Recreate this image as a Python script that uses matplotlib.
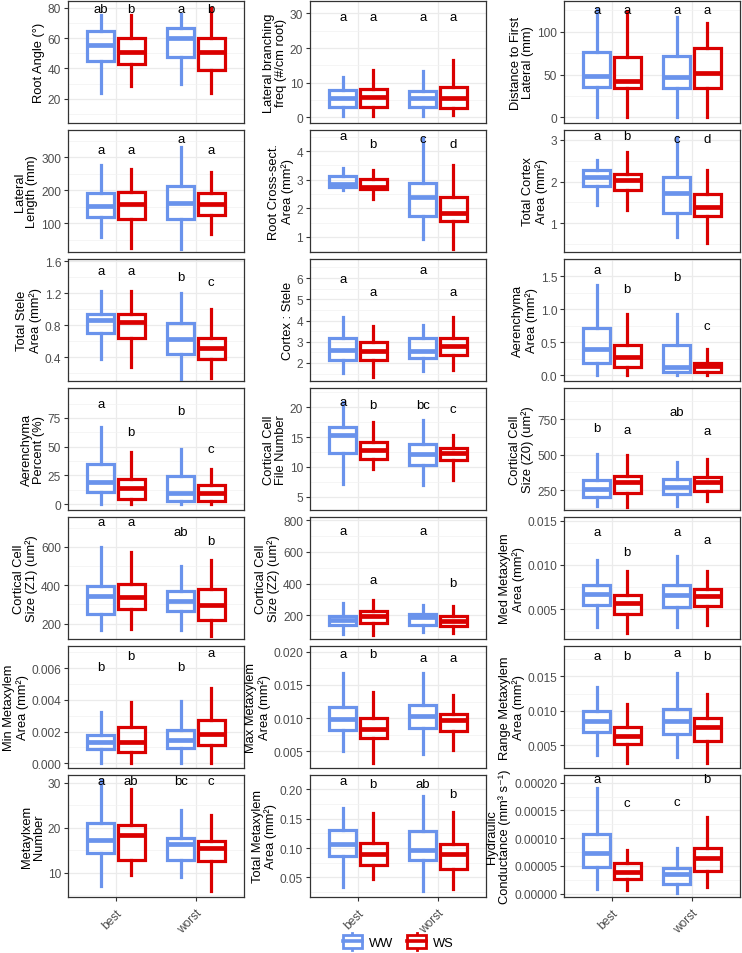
import matplotlib
matplotlib.use('Agg')
import matplotlib.pyplot as plt
from matplotlib.patches import Rectangle, Patch
from matplotlib.lines import Line2D
from matplotlib.legend_handler import HandlerBase
from matplotlib.ticker import FixedLocator, AutoMinorLocator, FixedFormatter

plt.rcParams['font.family'] = ['Liberation Sans', 'DejaVu Sans']

categories = ['best', 'worst']
treatments = ['WW', 'WS']
colors = {'WW': '#6A93EC', 'WS': '#DA0000'}

# box stats: [whislo, q1, median, q3, whishi] for best-WW, best-WS, worst-WW, worst-WS
root_angle_stats = [[24, 44.6, 55.5, 64.6, 75], [28.5, 42.8, 50.7, 60, 75], [29.6, 47.4, 60.2, 66.5, 76], [24, 39, 50.7, 60.2, 80]]
root_angle_letters = ['ab', 'b', 'a', 'b']
root_angle_letter_y = [79, 79, 79, 79]
root_angle_ticks = [20, 40, 60, 80]

lat_branch_stats = [[0.3, 2.9, 5.5, 8.0, 11.7], [0.3, 3.0, 5.9, 8.2, 13.8], [0.5, 3.0, 5.6, 7.6, 13.3], [0.7, 2.7, 5.5, 8.8, 16.5]]
lat_branch_letters = ['a', 'a', 'a', 'a']
lat_branch_letter_y = [29, 29, 29, 29]
lat_branch_ticks = [0, 10, 20, 30]

dist_first_stats = [[0.8, 35, 48.6, 76, 127], [0.8, 34.4, 42, 70.7, 124], [0.8, 34, 47, 72, 117], [0.8, 34, 52, 81, 110]]
dist_first_letters = ['a', 'a', 'a', 'a']
dist_first_letter_y = [125, 125, 125, 125]
dist_first_ticks = [0, 50, 100]

lat_length_stats = [[58, 119, 152, 191, 278], [25, 111, 158, 195, 264], [22, 113, 162, 213, 332], [68, 124, 158, 191, 254]]
lat_length_letters = ['a', 'a', 'a', 'a']
lat_length_letter_y = [323, 323, 356, 323]
lat_length_ticks = [100, 200, 300]

cross_area_stats = [[2.65, 2.76, 2.86, 3.12, 3.41], [2.32, 2.67, 2.76, 3.04, 3.35], [0.94, 1.73, 2.4, 2.9, 4.47], [0.59, 1.55, 1.85, 2.39, 3.5]]
cross_area_letters = ['a', 'b', 'c', 'd']
cross_area_letter_y = [4.53, 4.24, 4.41, 4.24]
cross_area_ticks = [1, 2, 3, 4]

cortex_area_stats = [[1.43, 1.9, 2.11, 2.28, 2.51], [1.32, 1.81, 2.05, 2.19, 2.71], [0.66, 1.24, 1.73, 2.1, 3.06], [0.52, 1.18, 1.39, 1.71, 2.27]]
cortex_area_letters = ['a', 'b', 'c', 'd']
cortex_area_letter_y = [3.1, 3.1, 3.02, 3.02]
cortex_area_ticks = [1, 2, 3]

stele_area_stats = [[0.37, 0.70, 0.87, 0.935, 1.227], [0.27, 0.64, 0.84, 0.935, 1.23], [0.13, 0.44, 0.63, 0.83, 1.2], [0.14, 0.38, 0.51, 0.64, 1.0]]
stele_area_letters = ['a', 'a', 'b', 'c']
stele_area_letter_y = [1.48, 1.48, 1.41, 1.34]
stele_area_ticks = [0.4, 0.8, 1.2, 1.6]

cortex_stele_stats = [[1.52, 2.15, 2.63, 3.16, 4.15], [1.36, 2.16, 2.55, 2.97, 3.72], [1.63, 2.23, 2.55, 3.19, 3.8], [1.68, 2.39, 2.79, 3.19, 4.15]]
cortex_stele_letters = ['a', 'a', 'a', 'a']
cortex_stele_letter_y = [5.97, 5.36, 6.4, 5.36]
cortex_stele_ticks = [2, 3, 4, 5, 6]

aer_area_stats = [[0.0, 0.19, 0.40, 0.71, 1.36], [0.0, 0.12, 0.27, 0.45, 0.93], [0.0, 0.05, 0.12, 0.45, 0.93], [0.0, 0.04, 0.13, 0.19, 0.40]]
aer_area_letters = ['a', 'b', 'b', 'c']
aer_area_letter_y = [1.59, 1.31, 1.49, 0.75]
aer_area_ticks = [0.0, 0.5, 1.0, 1.5]

aer_pct_stats = [[0, 10.6, 19.4, 35.3, 67], [0, 4.6, 14, 22, 45], [0, 3.2, 10, 24.3, 48], [0, 2.4, 9.5, 16.4, 30.6]]
aer_pct_letters = ['a', 'b', 'b', 'c']
aer_pct_letter_y = [87, 62.7, 80.8, 48.4]
aer_pct_ticks = [0, 25, 50, 75]

file_num_stats = [[7.2, 12.4, 15.3, 16.6, 20.9], [9.6, 11.4, 12.8, 14.1, 17.5], [7.0, 10.4, 12.1, 13.8, 17.9], [7.9, 11.1, 12.3, 13.2, 15.4]]
file_num_letters = ['a', 'b', 'bc', 'c']
file_num_letter_y = [20.9, 20.4, 20.4, 19.7]
file_num_ticks = [5, 10, 15, 20]

size_z0_stats = [[135, 204, 259, 324, 508], [130, 232, 305, 347, 499], [135, 222, 273, 328, 446], [176, 245, 308, 342, 469]]
size_z0_letters = ['b', 'a', 'ab', 'a']
size_z0_letter_y = [688, 676, 798, 669]
size_z0_ticks = [250, 500, 750]

size_z1_stats = [[169, 249, 344, 398, 600], [173, 276, 339, 404, 573], [169, 267, 317, 371, 501], [137, 218, 295, 380, 530]]
size_z1_letters = ['a', 'a', 'ab', 'b']
size_z1_letter_y = [728, 728, 677, 632]
size_z1_ticks = [200, 400, 600]

size_z2_stats = [[81, 140, 172, 194, 279], [77, 151, 194, 230, 294], [94, 140, 187, 209, 268], [87, 130, 166, 194, 257]]
size_z2_letters = ['a', 'a', 'a', 'b']
size_z2_letter_y = [732, 421, 732, 406]
size_z2_ticks = [200, 400, 600, 800]

med_mx_stats = [[0.00293, 0.00544, 0.00674, 0.00767, 0.01056], [0.0023, 0.00441, 0.00574, 0.00656, 0.00933], [0.00293, 0.00526, 0.00663, 0.00774, 0.01107], [0.00315, 0.00537, 0.00648, 0.00722, 0.00933]]
med_mx_letters = ['a', 'b', 'a', 'a']
med_mx_letter_y = [0.01378, 0.01144, 0.01378, 0.01278]
med_mx_ticks = [0.005, 0.010, 0.015]

min_mx_stats = [[0.0, 0.00092, 0.00135, 0.00178, 0.00325], [0.0, 0.0007, 0.00135, 0.00226, 0.00384], [0.0, 0.00096, 0.00146, 0.00211, 0.00395], [0.0, 0.00118, 0.00183, 0.00276, 0.00477]]
min_mx_letters = ['b', 'b', 'b', 'a']
min_mx_letter_y = [0.00606, 0.00676, 0.00606, 0.00693]
min_mx_ticks = [0.000, 0.002, 0.004, 0.006]

max_mx_stats = [[0.005, 0.00825, 0.00985, 0.01175, 0.01675], [0.0033, 0.00695, 0.00835, 0.0100, 0.0140], [0.00455, 0.00845, 0.01035, 0.0120, 0.01675], [0.00525, 0.0080, 0.00975, 0.01065, 0.0135]]
max_mx_letters = ['a', 'b', 'a', 'a']
max_mx_letter_y = [0.01965, 0.01965, 0.0190, 0.0190]
max_mx_ticks = [0.005, 0.010, 0.015, 0.020]

range_mx_stats = [[0.00365, 0.0069, 0.0085, 0.0100, 0.0134], [0.0024, 0.00515, 0.0063, 0.00765, 0.0110], [0.0033, 0.00665, 0.0085, 0.0102, 0.0155], [0.0024, 0.00565, 0.00765, 0.0090, 0.0125]]
range_mx_letters = ['a', 'b', 'a', 'b']
range_mx_letter_y = [0.0179, 0.0179, 0.0184, 0.0179]
range_mx_ticks = [0.005, 0.010, 0.015]

mx_number_stats = [[7.1, 14.3, 17.3, 21.0, 30.5], [9.5, 12.8, 18.3, 20.7, 28.7], [9.1, 12.8, 16.3, 17.7, 24.0], [5.9, 12.5, 15.4, 17.1, 22.9]]
mx_number_letters = ['a', 'ab', 'bc', 'c']
mx_number_letter_y = [30.4, 30.4, 30.4, 30.4]
mx_number_ticks = [10, 20, 30]

total_mx_stats = [[0.0339, 0.0872, 0.1066, 0.1313, 0.1685], [0.0471, 0.0711, 0.0895, 0.1084, 0.160], [0.0265, 0.0792, 0.097, 0.1296, 0.1885], [0.0299, 0.0643, 0.0906, 0.1066, 0.1616]]
total_mx_letters = ['a', 'b', 'ab', 'b']
total_mx_letter_y = [0.214, 0.21, 0.21, 0.192]
total_mx_ticks = [0.05, 0.10, 0.15, 0.20]

hydraulic_stats = [[0.0000079, 0.0000485, 0.0000727, 0.000108, 0.000191], [0.0000061, 0.0000261, 0.0000394, 0.0000545, 0.0000788], [0.000002, 0.0000182, 0.0000345, 0.0000467, 0.0000818], [0.0000121, 0.0000406, 0.0000636, 0.000083, 0.000139]]
hydraulic_letters = ['a', 'c', 'c', 'b']
hydraulic_letter_y = [0.000206, 0.000164, 0.000165, 0.000206]
hydraulic_ticks = [0.0, 0.00005, 0.00010, 0.00015, 0.00020]

panels = [
    ("Root Angle (°)", root_angle_stats, root_angle_letters, root_angle_letter_y, root_angle_ticks, '{:.0f}', (4, 84.5)),
    ("Lateral branching\nfreq (#/cm root)", lat_branch_stats, lat_branch_letters, lat_branch_letter_y, lat_branch_ticks, '{:.0f}', (-1.6, 33.6)),
    ("Distance to First\nLateral (mm)", dist_first_stats, dist_first_letters, dist_first_letter_y, dist_first_ticks, '{:.0f}', (-6.5, 136)),
    ("Lateral\nLength (mm)", lat_length_stats, lat_length_letters, lat_length_letter_y, lat_length_ticks, '{:.0f}', (12, 383)),
    ("Root Cross-sect.\nArea (mm²)", cross_area_stats, cross_area_letters, cross_area_letter_y, cross_area_ticks, '{:.0f}', (0.47, 4.74)),
    ("Total Cortex\nArea (mm²)", cortex_area_stats, cortex_area_letters, cortex_area_letter_y, cortex_area_ticks, '{:.0f}', (0.31, 3.24)),
    ("Total Stele\nArea (mm²)", stele_area_stats, stele_area_letters, stele_area_letter_y, stele_area_ticks, '{:.1f}', (0.10, 1.63)),
    ("Cortex : Stele", cortex_stele_stats, cortex_stele_letters, cortex_stele_letter_y, cortex_stele_ticks, '{:.0f}', (1.15, 6.9)),
    ("Aerenchyma\nArea (mm²)", aer_area_stats, aer_area_letters, aer_area_letter_y, aer_area_ticks, '{:.1f}', (-0.09, 1.76)),
    ("Aerenchyma\nPercent (%)", aer_pct_stats, aer_pct_letters, aer_pct_letter_y, aer_pct_ticks, '{:.0f}', (-5, 101)),
    ("Cortical Cell\nFile Number", file_num_stats, file_num_letters, file_num_letter_y, file_num_ticks, '{:.0f}', (2.8, 23.2)),
    ("Cortical Cell\nSize (Z0) (um²)", size_z0_stats, size_z0_letters, size_z0_letter_y, size_z0_ticks, '{:.0f}', (110, 970)),
    ("Cortical Cell\nSize (Z1) (um²)", size_z1_stats, size_z1_letters, size_z1_letter_y, size_z1_ticks, '{:.0f}', (120, 755)),
    ("Cortical Cell\nSize (Z2) (um²)", size_z2_stats, size_z2_letters, size_z2_letter_y, size_z2_ticks, '{:.0f}', (50, 821)),
    ("Med Metaxylem\nArea (mm²)", med_mx_stats, med_mx_letters, med_mx_letter_y, med_mx_ticks, '{:.3f}', (0.0016, 0.01544)),
    ("Min Metaxylem\nArea (mm²)", min_mx_stats, min_mx_letters, min_mx_letter_y, min_mx_ticks, '{:.3f}', (-0.0003, 0.0074)),
    ("Max Metaxylem\nArea (mm²)", max_mx_stats, max_mx_letters, max_mx_letter_y, max_mx_ticks, '{:.3f}', (0.0025, 0.02085)),
    ("Range Metaxylem\nArea (mm²)", range_mx_stats, range_mx_letters, range_mx_letter_y, range_mx_ticks, '{:.3f}', (0.0017, 0.0194)),
    ("Metaylxem\nNumber", mx_number_stats, mx_number_letters, mx_number_letter_y, mx_number_ticks, '{:.0f}', (4.6, 31.7)),
    ("Total Metaxylem\nArea (mm²)", total_mx_stats, total_mx_letters, total_mx_letter_y, total_mx_ticks, '{:.2f}', (0.0167, 0.2246)),
    ("Hydraulic\nConductance (mm³ s⁻¹)", hydraulic_stats, hydraulic_letters, hydraulic_letter_y, hydraulic_ticks, '{:.5f}', (-0.0000061, 0.000214)),
]

W, H = 742, 954
fig = plt.figure(figsize=(W / 100, H / 100), dpi=100)

col_left = [68, 310, 564]
panel_w = 176
row_top = [2 + 129 * i for i in range(7)]
panel_h = 122

dodge = 0.19
box_w = 0.34
positions = []
box_colors = []
for ci, cat in enumerate(categories):
    for t in treatments:
        positions.append(ci + 1 + (-dodge if t == 'WW' else dodge))
        box_colors.append(colors[t])

for idx, (ylabel, stats, letters, letter_y, ticks, fmt, ylim) in enumerate(panels):
    r, c = divmod(idx, 3)
    ax = fig.add_axes([col_left[c] / W, 1 - (row_top[r] + panel_h) / H, panel_w / W, panel_h / H])
    for k, s in enumerate(stats):
        st = dict(whislo=s[0], q1=s[1], med=s[2], q3=s[3], whishi=s[4], fliers=[])
        col = box_colors[k]
        ax.bxp([st], positions=[positions[k]], widths=box_w, showcaps=False, showfliers=False,
               patch_artist=True,
               boxprops=dict(facecolor='none', edgecolor=col, linewidth=2.3),
               medianprops=dict(color=col, linewidth=3.4, solid_capstyle='butt'),
               whiskerprops=dict(color=col, linewidth=2.3),
               manage_ticks=False, zorder=3)
        ax.text(positions[k], letter_y[k], letters[k], ha='center', va='center', fontsize=9.5, color='black', zorder=4)
    ax.set_xlim(0.4, 2.6)
    ax.set_ylim(*ylim)
    ax.yaxis.set_major_locator(FixedLocator(ticks))
    ax.yaxis.set_major_formatter(FixedFormatter([fmt.format(t) for t in ticks]))
    ax.yaxis.set_minor_locator(AutoMinorLocator(2))
    ax.set_xticks([1, 2])
    ax.grid(True, which='major', color='#EBEBEB', linewidth=0.9, zorder=0)
    ax.grid(True, which='minor', axis='y', color='#F2F2F2', linewidth=0.5, zorder=0)
    ax.set_axisbelow(True)
    for sp in ax.spines.values():
        sp.set_color('#333333')
        sp.set_linewidth(0.9)
    ax.tick_params(axis='y', which='major', length=3, color='#333333', labelsize=8.6, labelcolor='#4D4D4D', pad=2)
    ax.tick_params(axis='y', which='minor', length=0)
    if r == 6:
        ax.set_xticklabels(categories, rotation=45, ha='right', va='top', fontsize=8.6,
                           color='#4D4D4D', rotation_mode='anchor')
        ax.tick_params(axis='x', length=3, color='#333333', pad=4)
    else:
        ax.set_xticklabels([])
        ax.tick_params(axis='x', length=0)
    ax.set_ylabel(ylabel, fontsize=9.3, color='black', labelpad=2, linespacing=1.05)


class BoxHandler(HandlerBase):
    def create_artists(self, legend, orig_handle, xdescent, ydescent, width, height, fontsize, trans):
        col = orig_handle.get_edgecolor()
        x0, y0 = -xdescent, -ydescent
        xc = x0 + width / 2
        stub = Line2D([xc, xc], [y0 - 0.2 * height, y0 + 1.2 * height], color=col, linewidth=2.0, transform=trans)
        rect = Rectangle((x0 + 0.05 * width, y0), 0.9 * width, height, facecolor='white',
                         edgecolor=col, linewidth=2.0, transform=trans)
        mid = Line2D([x0 + 0.05 * width, x0 + 0.95 * width], [y0 + height / 2, y0 + height / 2],
                     color=col, linewidth=2.6, transform=trans)
        return [stub, rect, mid]


handles = [Patch(facecolor='white', edgecolor=colors[t], linewidth=2.0, label=t) for t in treatments]
fig.legend(handles=handles, loc='center', bbox_to_anchor=(398 / W, 1 - 943 / H), ncol=2, frameon=False,
           fontsize=9.3, handlelength=1.6, handleheight=1.1, columnspacing=1.0, handletextpad=0.5,
           handler_map={Patch: BoxHandler()})

fig.savefig('out.png', dpi=100, facecolor='white')
